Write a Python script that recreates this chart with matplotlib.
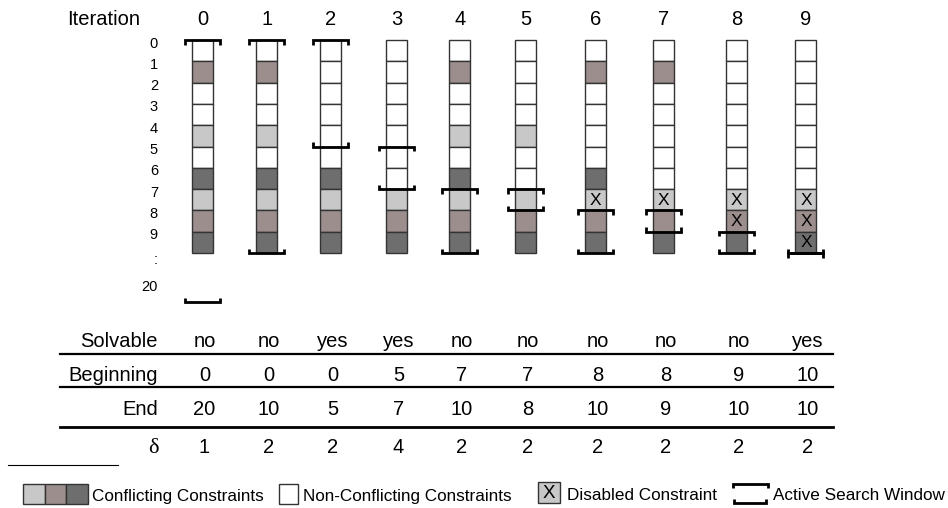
import matplotlib.pyplot as plt
from matplotlib.patches import Rectangle

plt.rcParams['font.family'] = ['Liberation Sans', 'DejaVu Sans']

# data
iterations = list(range(10))
# cell kinds per iteration, rows 0..9: W = non-conflicting, L/M/D = conflicting shades
cells = ['WMWWLWDLMD', 'WMWWLWDLMD', 'WWWWWWDLMD', 'WWWWWWWLMD', 'WMWWLWDLMD',
         'WWWWLWWLMD', 'WMWWWWDLMD', 'WMWWWWWLMD', 'WWWWWWWLMD', 'WWWWWWWLMD']
disabled = [[], [], [], [], [], [], [7], [7], [7, 8], [7, 8, 9]]
solvable = ['no', 'no', 'yes', 'yes', 'no', 'no', 'no', 'no', 'no', 'yes']
beginning = [0, 0, 0, 5, 7, 7, 8, 8, 9, 10]
end = [20, 10, 5, 7, 10, 8, 10, 9, 10, 10]
delta = [1, 2, 2, 4, 2, 2, 2, 2, 2, 2]
row_labels = [str(i) for i in range(10)] + [':', '20']

colors = {'W': 'white', 'L': '#c8c8c8', 'M': '#9b8e8d', 'D': '#6e6e6e'}
edge = '#333333'

# layout (pixels)
col_x = [202.5, 267, 331, 396.5, 460, 526, 595.5, 663.5, 736.5, 806]
top, rowh, cellw = 40, 21.3, 21
label_y = [top + i * rowh + 3.5 for i in range(10)] + [260, 287]


def ypos(k):
    # boundary position of constraint index k (20 sits below the ellipsis)
    return top + k * rowh if k <= 10 else 302


def bracket(ax, xc, y, hook, half=17.5, lw=2.0):
    ax.plot([xc - half, xc - half, xc + half, xc + half], [y + hook, y, y, y + hook],
            color='black', lw=lw, solid_joinstyle='miter', solid_capstyle='butt', zorder=5)


fig = plt.figure(figsize=(9.48, 5.08), dpi=100)
ax = fig.add_axes([0, 0, 1, 1])
ax.set_xlim(0, 948)
ax.set_ylim(508, 0)
ax.axis('off')

# header
ax.text(140, 25, 'Iteration', ha='right', va='baseline', fontsize=14.5)
for i, x in zip(iterations, col_x):
    ax.text(x, 25, str(i), ha='center', va='baseline', fontsize=14.5)

# row labels
for lab, y in zip(row_labels, label_y):
    ax.text(158, y, lab, ha='right', va='center', fontsize=10.5)

# constraint columns
for i, x in enumerate(col_x):
    for r, kind in enumerate(cells[i]):
        ax.add_patch(Rectangle((x - cellw / 2, ypos(r)), cellw, rowh,
                               facecolor=colors[kind], edgecolor=edge, lw=1.0, zorder=2))
        if r in disabled[i]:
            ax.text(x, ypos(r) + rowh / 2 + 0.5, 'X', ha='center', va='center',
                    fontsize=12.5, zorder=4)
    bracket(ax, x, ypos(beginning[i]), 4.5)
    bracket(ax, x, ypos(end[i]), -4.5)

# table
rows = [('Solvable', solvable, 347), ('Beginning', beginning, 381),
        ('End', end, 415)]
for name, vals, yb in rows:
    ax.text(158, yb, name, ha='right', va='baseline', fontsize=14.5)
    for x, v in zip(col_x, vals):
        ax.text(x + 2, yb, str(v), ha='center', va='baseline', fontsize=14.5)
ax.text(159, 453, 'δ', ha='right', va='baseline', fontsize=16, family='Liberation Serif')
for x, v in zip(col_x, delta):
    ax.text(x + 2, 453, str(v), ha='center', va='baseline', fontsize=14.5)

for y, lw in [(354, 1.6), (387, 1.6), (427, 2.0)]:
    ax.plot([60, 833], [y, y], color='black', lw=lw)

# footnote rule
ax.plot([8, 118], [465, 465], color='black', lw=0.8)

# legend
for k, kind in enumerate('LMD'):
    ax.add_patch(Rectangle((23 + k * 21.7, 484), 21.7, 20, facecolor=colors[kind],
                           edgecolor=edge, lw=1.0))
ax.text(92, 500.5, 'Conflicting Constraints', va='baseline', fontsize=12.3)
ax.add_patch(Rectangle((279, 484), 19, 20, facecolor='white', edgecolor=edge, lw=1.0))
ax.text(303, 500.5, 'Non-Conflicting Constraints', va='baseline', fontsize=12.3)
ax.add_patch(Rectangle((538, 482), 22, 21, facecolor=colors['L'], edgecolor=edge, lw=1.0))
ax.text(549, 493, 'X', ha='center', va='center', fontsize=13.5)
ax.text(567, 500.5, 'Disabled Constraint', va='baseline', fontsize=12.3)
bracket(ax, 750.5, 484, 4, half=17.5)
bracket(ax, 750.5, 503, -4, half=16)
ax.text(773, 500.5, 'Active Search Window', va='baseline', fontsize=12.3)

fig.savefig('out.png', dpi=100)
